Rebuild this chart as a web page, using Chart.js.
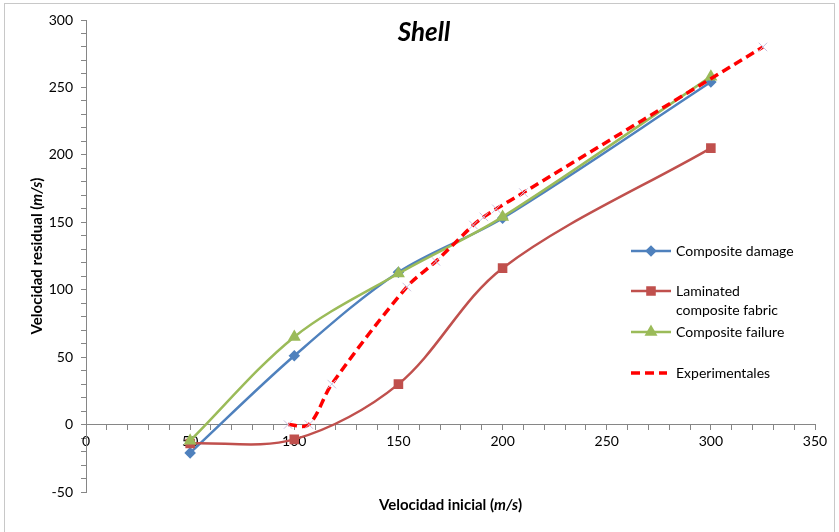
<!DOCTYPE html>
<html>
<head>
<meta charset="utf-8">
<script src="https://cdn.jsdelivr.net/npm/chart.js@4/dist/chart.umd.min.js"></script>
<style>
  body { margin: 0; background: #fff; overflow: hidden; }
  #wrap { position: relative; width: 839px; height: 532px; }
  #frame { position: absolute; left: 4px; top: 3px; width: 831px; height: 535px; border: 1px solid #c8c8c8; box-sizing: border-box; pointer-events: none; }
</style>
</head>
<body>
<div id="wrap">
  <canvas id="shellchart"></canvas>
  <div id="frame"></div>
</div>
<script>
var speeds = [50, 100, 150, 200, 300];
var compositeDamage = [-21, 51, 113, 153, 254];
var laminatedFabric = [-14, -11, 30, 116, 205];
var compositeFailure = [-12, 65, 112, 154, 258];
var expSpeeds = [97, 107, 118, 154, 168, 186, 191, 197, 210, 325];
var experimentales = [0, 0, 30, 102, 121, 148, 154, 160, 172, 280];

var FONT = 'Lato, "Open Sans", sans-serif';

function pairs(xs, ys) {
    return xs.map(function (x, i) { return { x: x, y: ys[i] }; });
}

function everyFifty(value) {
    return value % 50 === 0 ? value : '';
}

// text made of pieces with their own font, centred on (0,0)
function mixedText(c, parts) {
    var w = 0;
    parts.forEach(function (p) { c.font = p[1]; w += c.measureText(p[0]).width; });
    var x = -w / 2;
    parts.forEach(function (p) {
        c.font = p[1];
        c.fillText(p[0], x, 0);
        x += c.measureText(p[0]).width;
    });
}

// title, axis titles and legend are drawn over the plot like in the original
var overlay = {
    id: 'overlay',
    afterDraw: function (chart) {
        var c = chart.ctx;
        var area = chart.chartArea;
        var b = 'bold 15px ' + FONT, bi = 'italic bold 15px ' + FONT;
        c.save();
        c.fillStyle = '#000';
        c.textAlign = 'center';
        c.textBaseline = 'middle';
        c.font = 'italic bold 26px ' + FONT;
        c.fillText('Shell', 424, 33);

        c.textAlign = 'left';
        c.save();
        c.translate((area.left + area.right) / 2, 505);
        mixedText(c, [['Velocidad inicial (', b], ['m/s', bi], [')', b]]);
        c.restore();
        c.save();
        c.translate(37, (area.top + area.bottom) / 2);
        c.rotate(-Math.PI / 2);
        mixedText(c, [['Velocidad residual (', b], ['m/s', bi], [')', b]]);
        c.restore();

        var rows = [
            { ds: 0, y: 251, text: ['Composite damage'] },
            { ds: 1, y: 291, text: ['Laminated', 'composite fabric'] },
            { ds: 2, y: 332, text: ['Composite failure'] },
            { ds: 3, y: 373, text: ['Experimentales'] }
        ];
        c.font = '14px ' + FONT;
        rows.forEach(function (r) {
            var d = chart.data.datasets[r.ds];
            c.strokeStyle = d.borderColor;
            c.lineWidth = d.borderWidth;
            c.setLineDash(d.borderDash || []);
            c.beginPath();
            c.moveTo(631, r.y);
            c.lineTo(d.borderDash ? 667 : 671, r.y);
            c.stroke();
            c.setLineDash([]);
            if (!d.borderDash) {
                c.fillStyle = d.pointBackgroundColor;
                c.strokeStyle = d.pointBorderColor;
                Chart.helpers.drawPoint(c, {
                    pointStyle: d.pointStyle,
                    radius: d.pointRadius,
                    rotation: 0,
                    borderWidth: 1
                }, 651, r.y);
            }
            c.fillStyle = '#000';
            r.text.forEach(function (t, i) {
                c.fillText(t, 676, r.y + i * 19);
            });
        });
        c.restore();
    }
};

var ctx = document.getElementById('shellchart').getContext('2d');
var myChart = new Chart(ctx, {
    type: 'line',
    data: {
        datasets: [
            {
                label: 'Composite damage',
                data: pairs(speeds, compositeDamage),
                borderColor: '#4F81BD',
                backgroundColor: '#4F81BD',
                pointBackgroundColor: '#4F81BD',
                pointBorderColor: '#4F81BD',
                pointStyle: 'rectRot',
                pointRadius: 4,
                borderWidth: 2.5,
                tension: 0.33,
                order: 4
            },
            {
                label: 'Laminated composite fabric',
                data: pairs(speeds, laminatedFabric),
                borderColor: '#C0504D',
                backgroundColor: '#C0504D',
                pointBackgroundColor: '#C0504D',
                pointBorderColor: '#C0504D',
                pointStyle: 'rect',
                pointRadius: 5,
                borderWidth: 2.5,
                tension: 0.33,
                order: 3
            },
            {
                label: 'Composite failure',
                data: pairs(speeds, compositeFailure),
                borderColor: '#9BBB59',
                backgroundColor: '#9BBB59',
                pointBackgroundColor: '#9BBB59',
                pointBorderColor: '#9BBB59',
                pointStyle: 'triangle',
                pointRadius: 5,
                borderWidth: 2.5,
                tension: 0.33,
                order: 2
            },
            {
                label: 'Experimentales',
                data: pairs(expSpeeds, experimentales),
                borderColor: '#FF0000',
                backgroundColor: '#FF0000',
                pointBackgroundColor: 'rgba(0,0,0,0)',
                pointBorderColor: '#C9BEDD',
                pointStyle: 'crossRot',
                pointRadius: 6,
                pointBorderWidth: 1,
                borderWidth: 3.5,
                borderDash: [9, 5],
                tension: 0.33,
                order: 1
            }
        ]
    },
    options: {
        responsive: true,
        maintainAspectRatio: false,
        animation: false,
        layout: { padding: { left: 26, right: 24, top: 20, bottom: 40 } },
        plugins: {
            legend: { display: false },
            tooltip: { enabled: false }
        },
        scales: {
            x: {
                type: 'linear',
                position: { y: 0 },
                min: 0,
                max: 350,
                grid: { drawOnChartArea: false, color: '#868686', tickLength: 5 },
                border: { color: '#868686', width: 1 },
                ticks: {
                    stepSize: 10,
                    autoSkip: false,
                    maxRotation: 0,
                    padding: 4,
                    color: '#000',
                    font: { family: FONT, size: 14 },
                    callback: everyFifty
                }
            },
            y: {
                type: 'linear',
                position: 'left',
                min: -50,
                max: 300,
                grid: { drawOnChartArea: false, color: '#868686', tickLength: 5 },
                border: { color: '#868686', width: 1 },
                ticks: {
                    stepSize: 10,
                    autoSkip: false,
                    padding: 8,
                    color: '#000',
                    font: { family: FONT, size: 14 },
                    callback: everyFifty
                },
                afterFit: function (scale) { scale.width = 60; }
            }
        }
    },
    plugins: [overlay]
});
</script>
</body>
</html>
